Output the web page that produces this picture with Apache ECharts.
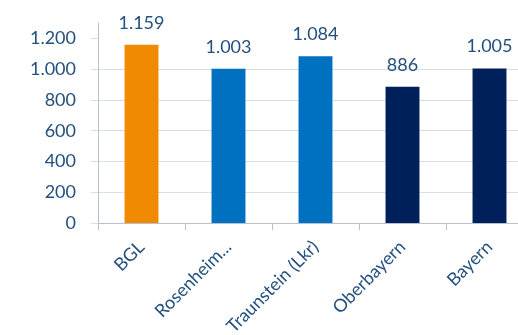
<!DOCTYPE html>
<html>
<head>
<meta charset="utf-8">
<script src="https://cdn.jsdelivr.net/npm/echarts@6/dist/echarts.min.js"></script>
<style>
  html, body { margin: 0; padding: 0; background: #ffffff; }
  #chart { width: 518px; height: 335px; }
</style>
</head>
<body>
<div id="chart"></div>
<script>
// Regions compared in the chart
const categories = ['BGL', 'Rosenheim...', 'Traunstein (Lkr)', 'Oberbayern', 'Bayern'];
// Value per region
const values = [1159, 1003, 1084, 886, 1005];
// Bar colours per region
const barColors = ['#F08A00', '#0070C0', '#0070C0', '#00205B', '#00205B'];
// Y axis tick values
const yTicks = [0, 200, 400, 600, 800, 1000, 1200];

const textColor = '#24507F';
const gridColor = '#D9DFE9';
const fontFamily = 'Lato, "Open Sans", sans-serif';

// German number format: 1.200
function fmt(v) {
  return String(Math.round(v)).replace(/\B(?=(\d{3})+(?!\d))/g, '.');
}

const chart = echarts.init(document.getElementById('chart'), null, { renderer: 'canvas' });
chart.setOption({
  animation: false,
  backgroundColor: '#ffffff',
  grid: {
    left: 98, right: -15, top: 23, bottom: 112,
    containLabel: false,
    outerBoundsMode: 'none'
  },
  xAxis: {
    type: 'category',
    data: categories,
    axisLine: { show: true, lineStyle: { color: '#B7C0CF', width: 1 } },
    axisTick: { show: true, length: 7, lineStyle: { color: '#B7C0CF' } },
    axisLabel: {
      rotate: 45,
      margin: 21,
      color: textColor,
      fontFamily: fontFamily,
      fontSize: 18,
      interval: 0
    }
  },
  yAxis: {
    type: 'value',
    min: 0,
    max: 1300,
    interval: 200,
    axisLine: { show: true, lineStyle: { color: '#B7C0CF', width: 1 } },
    axisTick: { show: true, length: 7, lineStyle: { color: gridColor }, customValues: yTicks },
    axisLabel: {
      color: textColor,
      fontFamily: fontFamily,
      fontSize: 18,
      margin: 22,
      customValues: yTicks,
      formatter: fmt
    },
    splitLine: { show: true, showMaxLine: false, lineStyle: { color: gridColor, width: 1 } }
  },
  series: [{
    type: 'bar',
    data: values.map((v, i) => ({ value: v, itemStyle: { color: barColors[i] } })),
    barWidth: '39%',
    label: {
      show: true,
      position: 'top',
      distance: 13,
      color: textColor,
      fontFamily: fontFamily,
      fontSize: 18,
      formatter: p => fmt(p.value)
    }
  }]
});
</script>
</body>
</html>
